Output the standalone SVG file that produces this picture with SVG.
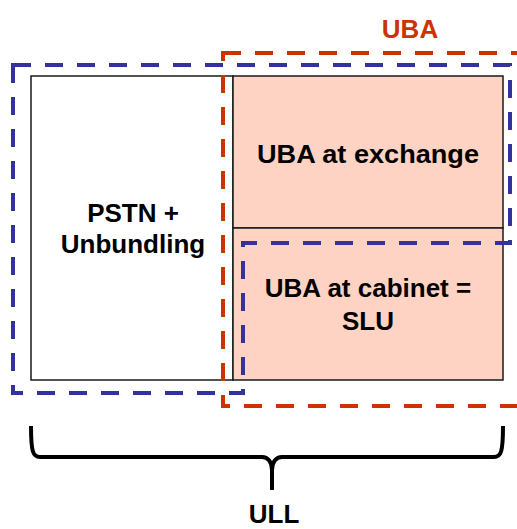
<svg xmlns="http://www.w3.org/2000/svg" width="517" height="529" viewBox="0 0 517 529">
<style>
.cell{stroke:#1a1a1a;stroke-width:1.5}
.lbl{font-family:"Liberation Sans",Arial,sans-serif;font-weight:bold;font-size:26px;fill:#000;text-anchor:middle}
.dash{fill:none;stroke-width:4;stroke-dasharray:18 14}
</style>
<rect width="517" height="529" fill="#fff"/>
<g id="pstn">
<rect class="cell" x="31" y="76" width="202" height="304" fill="#fff"/>
<text class="lbl" x="133" y="222">PSTN +</text>
<text class="lbl" x="133" y="253">Unbundling</text>
</g>
<g id="uba-exchange">
<rect class="cell" x="233" y="76" width="270" height="152" fill="#FFD3C3"/>
<text class="lbl" x="368" y="163" textLength="222" lengthAdjust="spacingAndGlyphs">UBA at exchange</text>
</g>
<g id="uba-cabinet">
<rect class="cell" x="233" y="228" width="270" height="152" fill="#FFD3C3"/>
<text class="lbl" x="368" y="297">UBA at cabinet =</text>
<text class="lbl" x="368" y="330">SLU</text>
</g>
<g id="connectors">
<path id="uba-region" class="dash" stroke="#CC3300" d="M223,53 H530 V406 H223 Z"/>
<path id="ull-region" class="dash" stroke="#333399" d="M13,65 H510 V243 H243 V393 H13 Z"/>
<path id="brace" d="M31,426 C31,452 33,457 40,457 H262 C268,457 272,462 272,470 V490 M272,470 C272,462 276,457 282,457 H494 C501,457 503,452 503,426" fill="none" stroke="#000" stroke-width="4"/>
</g>
<g id="labels">
<text class="lbl" x="410" y="38" style="fill:#CC3300">UBA</text>
<text class="lbl" x="274" y="523">ULL</text>
</g>
</svg>
